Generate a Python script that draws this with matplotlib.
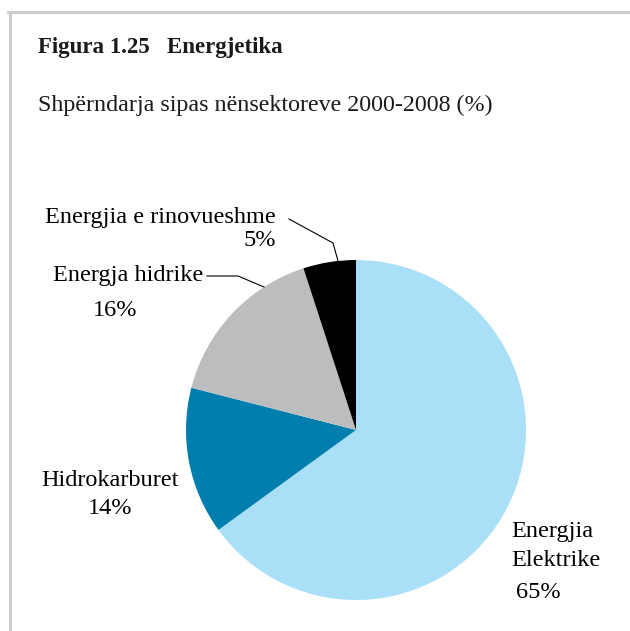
import matplotlib
matplotlib.use("Agg")
import matplotlib.pyplot as plt
from matplotlib.lines import Line2D

# data
labels = ["Energjia\nElektrike", "Hidrokarburet", "Energja hidrike", "Energjia e rinovueshme"]
shares = [65, 14, 16, 5]
colors = ["#a9dff7", "#007fae", "#bcbdbf", "#000000"]

W, H = 630, 631
plt.rcParams['font.family'] = ['Liberation Serif', 'DejaVu Serif']

fig = plt.figure(figsize=(W / 100, H / 100), dpi=100)


def fx(x):
    return x / W


def fy(y):
    return 1 - y / H


# frame lines (top and left)
fig.add_artist(Line2D([fx(8), fx(630)], [fy(12), fy(12)], color="#cccccc", lw=2.2))
fig.add_artist(Line2D([fx(10), fx(10)], [fy(12), fy(631)], color="#cccccc", lw=2.2))

fig.text(fx(38), fy(47), "Figura 1.25   Energjetika", fontsize=16.5, fontweight="bold",
         va="center", ha="left", color="#1a1a1a")
fig.text(fx(38), fy(105), "Shpërndarja sipas nënsektoreve 2000-2008 (%)", fontsize=17.3,
         va="center", ha="left", color="#1a1a1a")

# pie
cx, cy, r = 356, 430, 170
ax = fig.add_axes([fx(cx - r), fy(cy + r), 2 * r / W, 2 * r / H])
ax.pie(shares, colors=colors, startangle=90, counterclock=False,
       wedgeprops=dict(linewidth=0))
ax.set_xlim(-1, 1)
ax.set_ylim(-1, 1)
ax.set_aspect("equal")
ax.axis("off")

# labels
fs = 17.5
fig.text(fx(160), fy(218), labels[3], fontsize=fs, ha="center", va="center")
fig.text(fx(276), fy(241), f"{shares[3]}%", fontsize=fs, ha="right", va="center")
fig.text(fx(128), fy(276), labels[2], fontsize=fs, ha="center", va="center")
fig.text(fx(115), fy(310), f"{shares[2]}%", fontsize=fs, ha="center", va="center")
fig.text(fx(110), fy(481), labels[1], fontsize=fs, ha="center", va="center")
fig.text(fx(110), fy(509), f"{shares[1]}%", fontsize=fs, ha="center", va="center")
fig.text(fx(511), fy(546), labels[0], fontsize=fs, ha="left", va="center", linespacing=1.45)
fig.text(fx(538), fy(593), f"{shares[0]}%", fontsize=fs, ha="center", va="center")

# leader lines
fig.add_artist(Line2D([fx(289), fx(333), fx(338)], [fy(219), fy(243), fy(261)],
                      color="black", lw=0.8))
fig.add_artist(Line2D([fx(207), fx(238), fx(264)], [fy(276), fy(276), fy(287)],
                      color="black", lw=0.8))

fig.savefig("out.png", dpi=100)
